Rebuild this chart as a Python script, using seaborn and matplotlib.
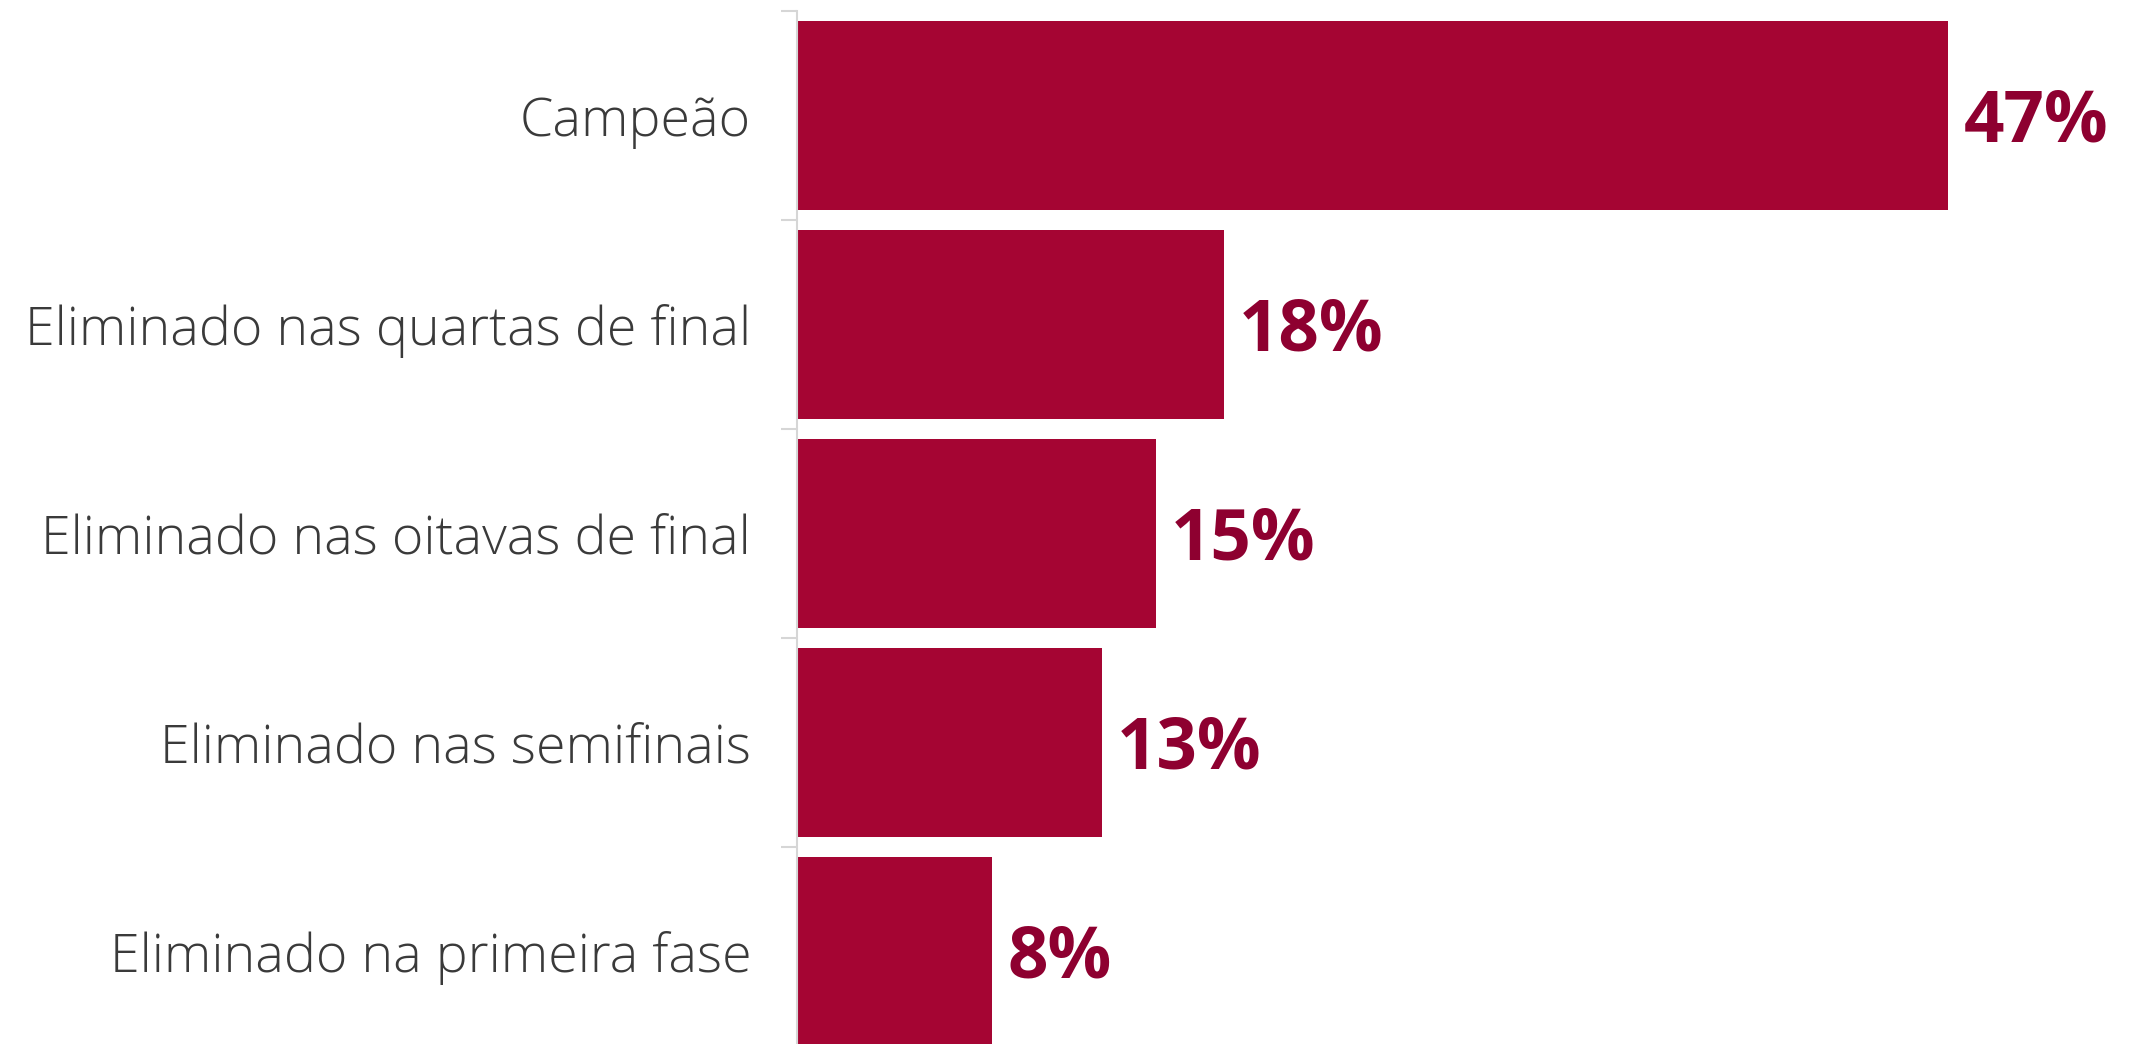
import numpy as np
import matplotlib
matplotlib.use('Agg')
import matplotlib.pyplot as plt
import seaborn as sns

categories = ['Campeão', 'Eliminado nas quartas de final', 'Eliminado nas oitavas de final',
              'Eliminado nas semifinais', 'Eliminado na primeira fase']
values = [47.2, 17.5, 14.7, 12.5, 8.0]
value_labels = ['47%', '18%', '15%', '13%', '8%']

bar_color = '#A50533'
text_color = '#8E0030'
grey = '#d6d6d6'

sns.set_theme(style='white')
plt.rcParams['font.family'] = ['Open Sans', 'DejaVu Sans']

W, H = 2140, 1044
fig = plt.figure(figsize=(W / 100, H / 100), dpi=100)
px_per_unit = 24.39
left_px, top_px, band_px = 797, 11, 209
ax = fig.add_axes([left_px / W, (H - top_px - 5 * band_px) / H,
                   55 * px_per_unit / W, 5 * band_px / H])

sns.barplot(x=values, y=categories, orient='h', color=bar_color, saturation=1,
            width=0.905, linewidth=0, ax=ax)

ax.set_xlim(0, 55)
ax.set_ylim(4.5, -0.5)

for i, (v, lab) in enumerate(zip(values, value_labels)):
    ax.annotate(lab, xy=(v, i), xytext=(11, -5), textcoords='offset points',
                va='center', ha='left', fontsize=51, fontweight='bold',
                color=text_color)

ax.set_xticks([])
ax.set_xlabel('')
ax.set_ylabel('')
ax.tick_params(axis='y', which='major', length=0, pad=33, labelsize=38.7,
               labelcolor='#3a3a3a')
for t in ax.get_yticklabels():
    t.set_fontweight('light')
ax.set_yticks(np.arange(-0.5, 5, 1), minor=True)
ax.tick_params(axis='y', which='minor', length=11.5, width=1.5, color=grey, left=True)

for s in ['top', 'right', 'bottom']:
    ax.spines[s].set_visible(False)
ax.spines['left'].set_color(grey)
ax.spines['left'].set_linewidth(1.5)

fig.savefig('out.png', dpi=100)
